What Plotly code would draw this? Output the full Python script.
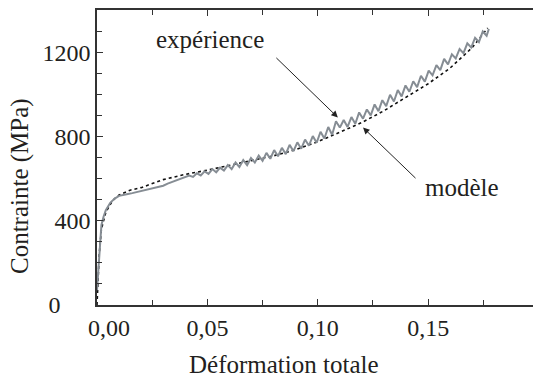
import plotly.graph_objects as go

# ---- data ----
exp_x = [0.0, 0.0005, 0.001, 0.0015, 0.002, 0.003, 0.004, 0.006, 0.008, 0.010, 0.012, 0.014,
         0.016, 0.018, 0.020, 0.022, 0.024, 0.026, 0.028, 0.030, 0.032, 0.034, 0.036, 0.038,
         0.0400, 0.04175, 0.0435, 0.04525, 0.0470, 0.04875, 0.0505, 0.05225, 0.0540, 0.05575,
         0.0575, 0.05925, 0.0610, 0.06275, 0.0645, 0.06625, 0.0680, 0.06975, 0.0715, 0.07325,
         0.0750, 0.07675, 0.0785, 0.08025, 0.0820, 0.08375, 0.0855, 0.08725, 0.0890, 0.09075,
         0.0925, 0.09425, 0.0960, 0.09775, 0.0995, 0.10125, 0.1030, 0.10475, 0.1065, 0.10825,
         0.1100, 0.11175, 0.1135, 0.11525, 0.1170, 0.11875, 0.1205, 0.12225, 0.1240, 0.12575,
         0.1275, 0.12925, 0.1310, 0.13275, 0.1345, 0.13625, 0.1380, 0.13975, 0.1415, 0.14325,
         0.1450, 0.14675, 0.1485, 0.15025, 0.1520, 0.15375, 0.1555, 0.15725, 0.1590, 0.16075,
         0.1625, 0.16425, 0.1660, 0.16775, 0.1695, 0.17125, 0.1730, 0.17475, 0.1765, 0.1775]
exp_y = [70, 160, 250, 330, 380, 420, 450, 485, 505, 518, 524, 527,
         531, 536, 540, 543, 548, 553, 560, 566, 576, 584, 592, 600,
         606, 614, 608, 625, 615, 634, 622, 645, 630, 652,
         638, 664, 645, 676, 655, 688, 664, 698, 676, 709,
         684, 722, 694, 735, 706, 746, 716, 760, 730, 772,
         742, 785, 756, 802, 770, 822, 790, 845, 808, 872,
         842, 878, 845, 892, 860, 914, 884, 928, 900, 952,
         920, 972, 944, 998, 966, 1020, 990, 1042, 1012, 1062,
         1034, 1088, 1060, 1112, 1090, 1138, 1115, 1168, 1142, 1190,
         1170, 1215, 1195, 1242, 1222, 1268, 1248, 1298, 1278, 1310]

model_x = [0.0, 0.001, 0.002, 0.004, 0.007, 0.010, 0.015, 0.020, 0.030, 0.040, 0.050, 0.060,
           0.070, 0.080, 0.090, 0.100, 0.110, 0.120, 0.130, 0.140, 0.150, 0.160, 0.170, 0.177]
model_y = [0, 240, 360, 440, 495, 522, 545, 557, 595, 620, 640, 662,
           686, 708, 737, 775, 820, 866, 922, 985, 1050, 1125, 1222, 1315]

x_ticks = [0.0, 0.05, 0.10, 0.15]
x_ticklabels = ["\u00a0\u00a0\u00a0\u00a00,00", "0,05", "0,10", "0,15"]
y_ticks = [0, 400, 800, 1200]
y_ticklabels = ["0\u00a0\u00a0\u00a0\u00a0\u00a0", "400", "800", "1200"]

FONT = "'Liberation Serif', 'Times New Roman', 'DejaVu Serif', serif"
TXT = "#231f20"

fig = go.Figure()
fig.add_trace(go.Scatter(x=model_x, y=model_y, mode="lines",
                         line=dict(color="#111111", width=1.6, dash="dot"), showlegend=False))
fig.add_trace(go.Scatter(x=exp_x, y=exp_y, mode="lines",
                         line=dict(color="#868d94", width=2), showlegend=False))

fig.update_layout(
    width=533, height=381,
    margin=dict(l=97, r=0, t=10, b=76),
    paper_bgcolor="white", plot_bgcolor="white",
    font=dict(family=FONT, size=22, color=TXT),
    xaxis=dict(range=[0, 0.1975], showline=True, linecolor="#333333", linewidth=1.5,
               mirror="ticks", ticks="inside", ticklen=6, tickcolor="#333333",
               tickvals=x_ticks, ticktext=x_ticklabels, showgrid=False, zeroline=False,
               minor=dict(ticks="inside", dtick=0.025, tick0=0, ticklen=5, tickcolor="#333333"),
               tickfont=dict(family=FONT, size=24, color=TXT)),
    yaxis=dict(range=[0, 1400], showline=True, linecolor="#333333", linewidth=1.5,
               ticks="inside", ticklen=6, tickcolor="#333333",
               tickvals=y_ticks, ticktext=y_ticklabels, showgrid=False, zeroline=False,
               minor=dict(ticks="inside", dtick=100, tick0=0, ticklen=5, tickcolor="#333333"),
               tickfont=dict(family=FONT, size=24, color=TXT)),
)

fig.add_annotation(text="Déformation totale", xref="paper", yref="paper",
                   xanchor="center", yanchor="middle",
                   x=(284 - 97) / 436, y=-(364 - 305) / 295, showarrow=False,
                   font=dict(family=FONT, size=25, color=TXT))
fig.add_annotation(text="Contrainte (MPa)", xref="paper", yref="paper",
                   xanchor="center", yanchor="middle",
                   x=-(97 - 20) / 436, y=(305 - 186) / 295, textangle=-90, showarrow=False,
                   font=dict(family=FONT, size=25, color=TXT))

fig.add_annotation(text="expérience", x=0.0513, y=1260, showarrow=False,
                   font=dict(family=FONT, size=25, color=TXT))
fig.add_annotation(text="modèle", x=0.1653, y=560, showarrow=False,
                   font=dict(family=FONT, size=25, color=TXT))

fig.add_annotation(text="", x=0.1091, y=890, ax=-63, ay=-61, showarrow=True,
                   arrowhead=2, arrowsize=1.3, arrowwidth=1, arrowcolor="#222222")
fig.add_annotation(text="", x=0.1205, y=842, ax=54, ay=52, showarrow=True,
                   arrowhead=2, arrowsize=1.3, arrowwidth=1, arrowcolor="#222222")

fig.write_html("out.html")
